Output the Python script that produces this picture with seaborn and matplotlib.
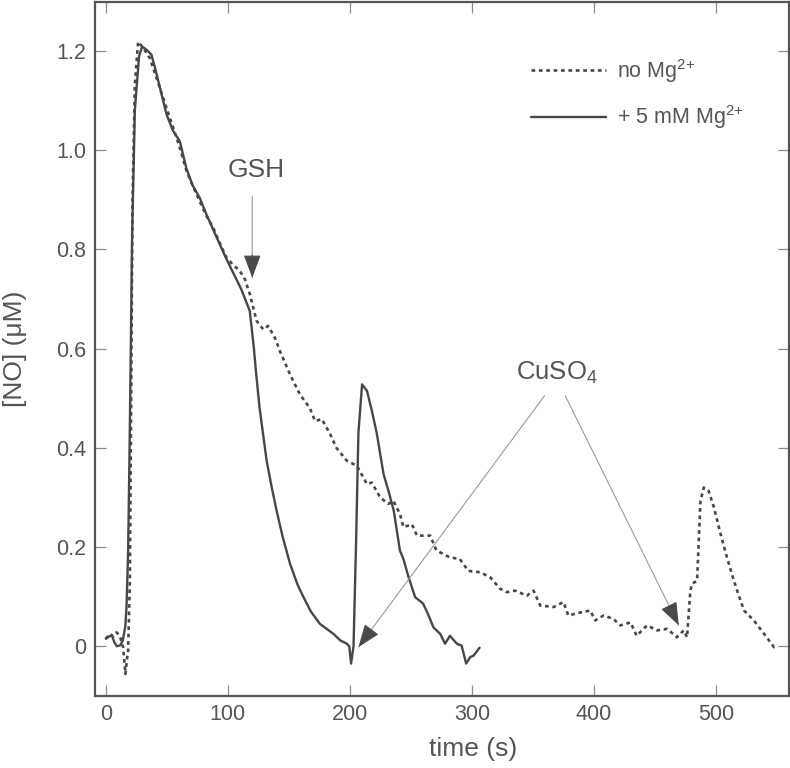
import matplotlib
matplotlib.use('Agg')
import matplotlib.pyplot as plt
import seaborn as sns
import numpy as np

# === DATA ===
# no Mg2+ (dotted)
t_nomg = [0, 3.3, 6, 8.8, 11.5, 14.2, 16.1, 17.2, 18.3, 19.7, 20.8, 21.9, 23.8, 26.5,
          30.8, 36, 41.6, 49.8, 55.3, 60.7, 66.2, 71, 77, 82, 88, 93, 99, 104, 110, 114,
          118, 123.6, 129, 133, 138.6, 142.7, 151, 159, 167, 171.5, 177, 183.8, 189,
          197.5, 205.7, 214, 218, 224.8, 231.6, 235.7, 241, 244, 250.8, 255, 265.8, 271,
          282, 290, 297, 306.8, 315, 323, 328.7, 335.5, 345, 350.5, 356, 367, 375, 379,
          389, 397, 401, 408, 416, 421.6, 430, 435, 443.5, 451.7, 460, 468, 473.6, 476.3,
          479, 480.4, 484.5, 487.3, 490, 494, 498.3, 503.8, 509, 514.7, 519, 523, 531,
          539.4, 547.6, 550]
no_nomg = [0.015, 0.025, 0.02, 0.028, 0.021, -0.002, -0.056, -0.03, -0.009, 0.126, 0.5,
           0.897, 1.132, 1.219, 1.206, 1.186, 1.146, 1.085, 1.045, 1.005, 0.958, 0.93,
           0.897, 0.87, 0.844, 0.815, 0.783, 0.77, 0.756, 0.74, 0.71, 0.656, 0.639, 0.646,
           0.622, 0.595, 0.548, 0.508, 0.481, 0.454, 0.458, 0.428, 0.40, 0.374, 0.364,
           0.327, 0.33, 0.30, 0.287, 0.293, 0.267, 0.24, 0.246, 0.223, 0.223, 0.193,
           0.179, 0.176, 0.152, 0.149, 0.139, 0.116, 0.109, 0.112, 0.102, 0.112, 0.082,
           0.079, 0.089, 0.062, 0.068, 0.072, 0.052, 0.062, 0.055, 0.042, 0.048, 0.021,
           0.042, 0.032, 0.035, 0.018, 0.032, 0.018, 0.112, 0.126, 0.132, 0.293, 0.32,
           0.313, 0.28, 0.226, 0.179, 0.132, 0.1, 0.072, 0.052, 0.025, -0.002, 0.001]

# + 5 mM Mg2+ (solid)
t_mg = [0, 3, 5, 7, 9, 12, 14, 16, 17, 18.3, 19.5, 20.5, 21.6, 22.4, 23.8, 25.2, 27.3,
        29.8, 33.3, 37.4, 41, 44.5, 49.8, 55, 60.7, 66, 71, 77, 82.6, 88, 93.5, 99,
        104.4, 111, 118, 121.4, 123, 126, 131.8, 136, 140, 145, 151, 157, 162, 168,
        175.5, 181, 186.5, 192, 197.5, 199.5, 201, 203, 205, 207, 210, 214, 218, 222,
        227.6, 232, 236, 241, 244, 248, 253.5, 260, 264, 268.5, 274, 278, 282, 287.7,
        291.6, 295.3, 298.6, 301.4, 306.3]
no_mg = [0.015, 0.02, 0.022, 0.008, 0.0, 0.002, 0.012, 0.04, 0.08, 0.19, 0.40, 0.60,
         0.83, 0.92, 1.08, 1.125, 1.19, 1.209, 1.203, 1.193, 1.16, 1.125, 1.072, 1.04,
         1.018, 0.964, 0.93, 0.904, 0.87, 0.84, 0.81, 0.78, 0.753, 0.72, 0.676, 0.60,
         0.555, 0.481, 0.374, 0.32, 0.273, 0.22, 0.166, 0.125, 0.099, 0.07, 0.045,
         0.035, 0.025, 0.012, 0.005, 0.0, -0.035, 0.0, 0.2, 0.43, 0.528, 0.515, 0.475,
         0.43, 0.347, 0.31, 0.273, 0.193, 0.175, 0.14, 0.099, 0.086, 0.065, 0.038,
         0.025, 0.005, 0.021, 0.005, 0.001, -0.035, -0.022, -0.019, -0.003]

labels = ['no Mg$^{\\text{2+}}$', '+ 5 mM Mg$^{\\text{2+}}$']
x_ticks = [0, 100, 200, 300, 400, 500]
y_ticks = [0, 0.2, 0.4, 0.6, 0.8, 1.0, 1.2]
y_ticklabels = ['0', '0.2', '0.4', '0.6', '0.8', '1.0', '1.2']

# === STYLE ===
sns.set_theme(style="ticks")
plt.rcParams['font.family'] = ['Liberation Sans', 'DejaVu Sans']
plt.rcParams['mathtext.fontset'] = 'custom'
plt.rcParams['mathtext.rm'] = 'Liberation Sans'
plt.rcParams['mathtext.it'] = 'Liberation Sans:italic'
plt.rcParams['mathtext.bf'] = 'Liberation Sans:bold'

LINE = '#474747'
TEXT = '#555555'
SPINE = '#555555'
TICK = '#8c8c8c'

fig = plt.figure(figsize=(7.9, 7.68), dpi=100)
ax = fig.add_axes([0.120, 0.094, 0.879, 0.904])

sns.lineplot(x=t_nomg, y=no_nomg, ax=ax, color=LINE, linewidth=1.9,
             sort=False, estimator=None, label=labels[0], dashes=False)
ax.lines[-1].set_dashes((1.4, 1.4))
sns.lineplot(x=t_mg, y=no_mg, ax=ax, color=LINE, linewidth=1.7,
             sort=False, estimator=None, label=labels[1])

ax.set_xlim(-9, 560)
ax.set_ylim(-0.10, 1.30)
ax.set_xticks(x_ticks)
ax.set_yticks(y_ticks)
ax.set_yticklabels(y_ticklabels)

for s in ax.spines.values():
    s.set_visible(True)
    s.set_color(SPINE)
    s.set_linewidth(1.6)

ax.tick_params(direction='in', length=8, width=0.9, color=TICK,
               top=True, right=True, labelsize=15.5, labelcolor=TEXT, pad=6)

ax.set_xlabel('time (s)', fontsize=19, color=TEXT)
ax.set_ylabel('[NO] (μM)', fontsize=19, color=TEXT)
ax.xaxis.set_label_coords(0.545, -0.060)
ax.yaxis.set_label_coords(-0.098, 0.5)

# === ANNOTATIONS ===
def arrow(ax, start, tip, head_frac=0.12):
    ax.annotate('', xy=tip, xytext=start,
                arrowprops=dict(arrowstyle='-', color='#9a9a9a', lw=0.8,
                                shrinkA=0, shrinkB=0))
    sx, sy = start
    tx, ty = tip
    hx = tx + (sx - tx) * head_frac
    hy = ty + (sy - ty) * head_frac
    ax.annotate('', xy=tip, xytext=(hx, hy),
                arrowprops=dict(arrowstyle='-|>,head_length=1.2,head_width=0.45',
                                color='#4a4a4a', lw=0.8, shrinkA=0, shrinkB=0))

ax.text(123.6, 0.961, 'GSH', fontsize=19, color=TEXT, ha='center', va='center')
arrow(ax, (120, 0.907), (120, 0.743), head_frac=0.28)

ax.text(369.7, 0.552, 'CuSO$_4$', fontsize=18.5, color=TEXT, ha='center', va='center')
arrow(ax, (359.5, 0.505), (207, -0.002), head_frac=0.06)
arrow(ax, (376.5, 0.505), (469.5, 0.042), head_frac=0.08)

leg = ax.legend(loc='upper right', bbox_to_anchor=(0.962, 0.948), frameon=False,
                fontsize=15.5, handlelength=3.5, labelspacing=0.85, handletextpad=0.5)
for txt in leg.get_texts():
    txt.set_color(TEXT)

plt.savefig('out.png', dpi=100)
plt.close()
